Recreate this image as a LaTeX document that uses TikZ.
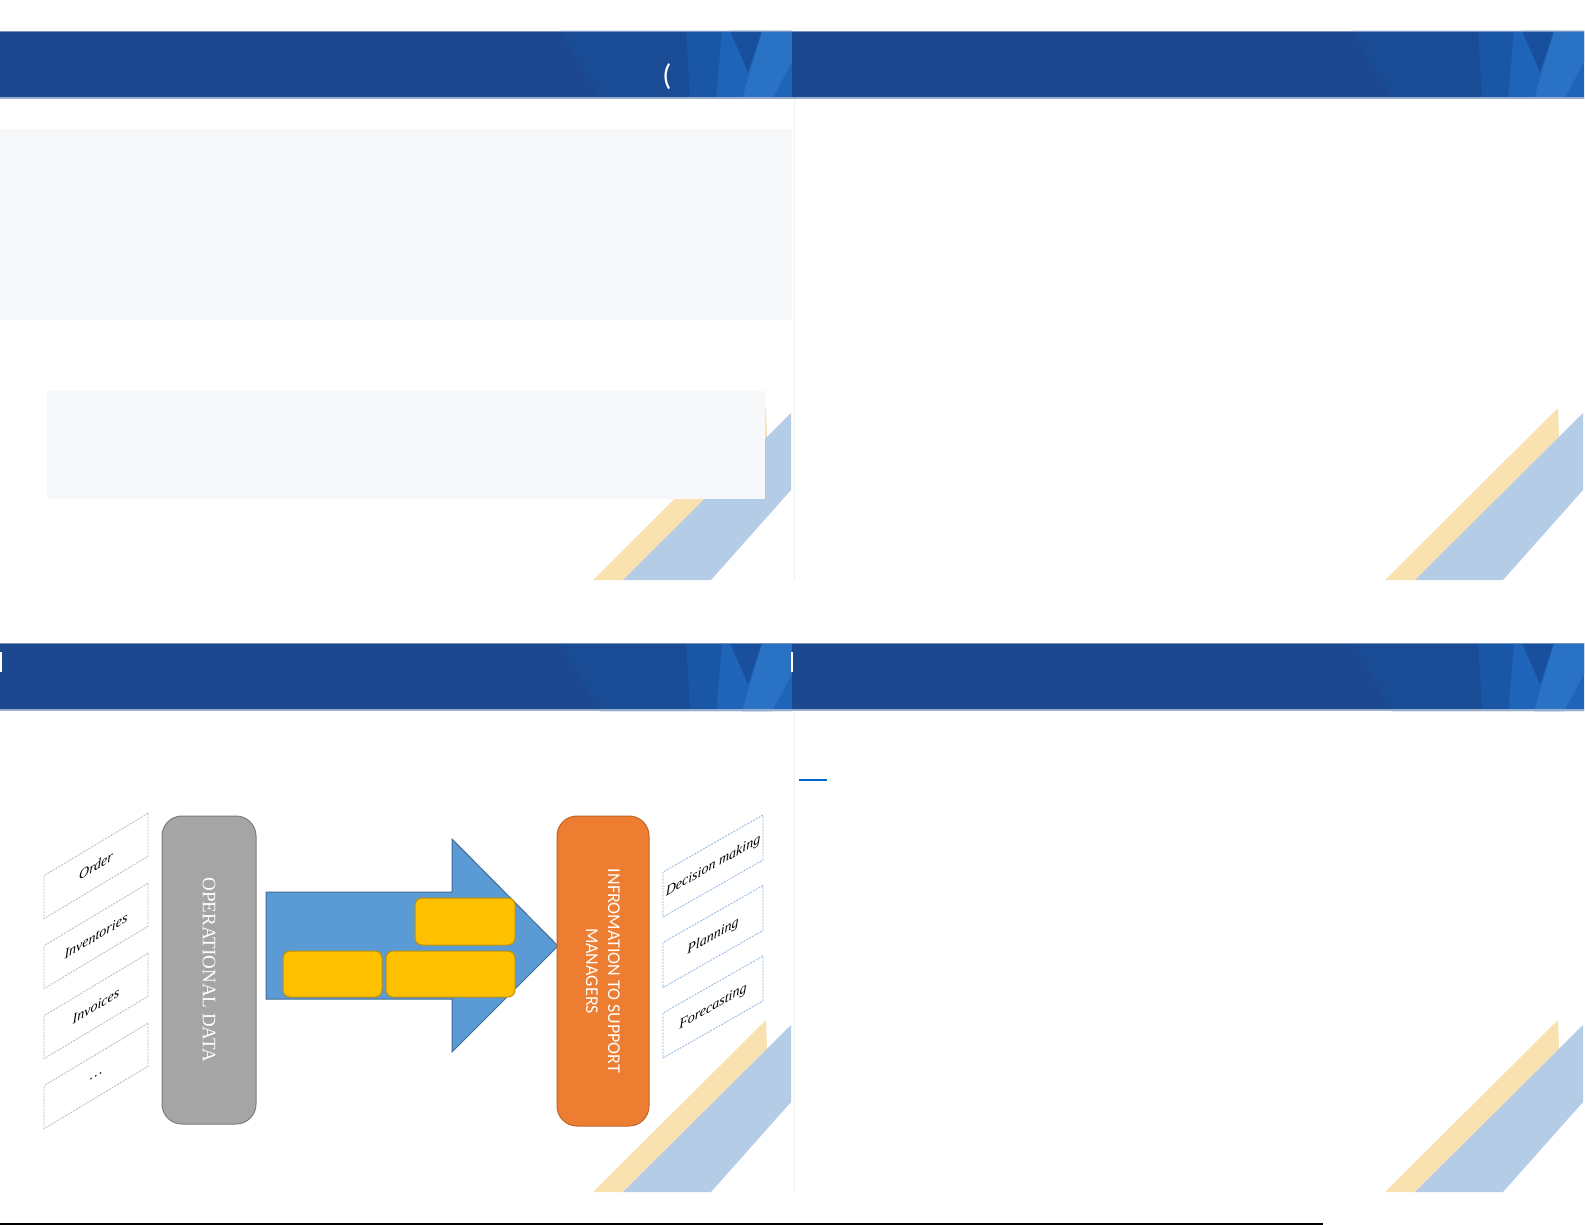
\documentclass[tikz,border=0pt]{standalone}
\usepackage{fontspec}
\setmainfont{Liberation Serif}
\newfontfamily\calibri{Carlito}
\usetikzlibrary{positioning}
\definecolor{hdrblue}{RGB}{28, 72, 143}
\definecolor{hdrdark}{RGB}{25, 76, 148}
\definecolor{decoA}{RGB}{26, 86, 166}
\definecolor{decoB}{RGB}{30, 100, 184}
\definecolor{decoC}{RGB}{24, 80, 158}
\definecolor{decoD}{RGB}{42, 114, 195}
\definecolor{panelgray}{RGB}{247, 248, 250}
\definecolor{stripeyel}{RGB}{250, 226, 176}
\definecolor{stripeblu}{RGB}{180, 204, 230}
\definecolor{opgray}{RGB}{165, 165, 165}
\definecolor{infoorange}{RGB}{237, 125, 49}
\definecolor{arrowblue}{RGB}{91, 155, 213}
\definecolor{goldfill}{RGB}{255, 192, 0}
\definecolor{parblue}{RGB}{141, 180, 226}
\definecolor{linkblue}{RGB}{0, 102, 204}

% header band and corner stripes of one slide
\newcommand{\slidedeco}[2]{%
    \begin{scope}[shift={(#1,#2)}]
        \fill[stripeyel] (593,580) -- (766,408) -- (767,437) -- (623,580) -- cycle;
        \fill[stripeblu] (623,580) -- (791,413) -- (791,490) -- (711,580) -- cycle;
        \fill[hdrblue] (0,31) rectangle (792,99);
        \fill[hdrdark] (560,31) -- (686,31) -- (690,99) -- (600,99) -- cycle;
        \fill[decoA] (686,31) -- (722,31) -- (716,99) -- (690,99) -- cycle;
        \fill[decoB] (722,31) -- (792,31) -- (792,99) -- (716,99) -- cycle;
        \fill[decoC] (730,31) -- (762,31) -- (748,72) -- cycle;
        \fill[decoD] (762,31) -- (792,31) -- (792,62) -- (772,99) -- (742,99) -- cycle;
        \draw[hdrblue!60!white, line width=0.5pt] (0,31.5) -- (792,31.5);
        \draw[hdrblue!45!white, line width=0.8pt] (0,98) -- (792,98);
    \end{scope}}

\begin{document}
\begin{tikzpicture}[
        x=0.5pt, y=-0.5pt,
        panel/.style={fill=panelgray, draw=none},
        opbox/.style={
            rounded corners=10pt, fill=opgray, draw=opgray!75!black,
            line width=0.5pt, inner sep=0pt,
            minimum width=154pt, minimum height=47pt, rotate=-90,
            text=white, font=\fontsize{9.5}{11}\selectfont
        },
        infobox/.style={
            rounded corners=10pt, fill=infoorange, draw=infoorange!80!black,
            line width=0.5pt, inner sep=0pt, align=center,
            minimum width=155pt, minimum height=46pt, rotate=-90,
            text=white, font=\calibri\fontsize{9}{11}\selectfont
        },
        ybox/.style={
            rounded corners=3.5pt, fill=goldfill, draw=goldfill!75!black,
            line width=0.5pt, inner sep=0pt, minimum height=23pt
        },
        parbox/.style={
            fill=white, dash pattern=on 1pt off 0.6pt, line width=0.4pt,
            inner sep=0pt, font=\itshape\fontsize{7}{8}\selectfont
        },
        srcpar/.style={parbox, yslant=0.6, draw=gray!55,
            minimum width=52pt, minimum height=21.5pt},
        usepar/.style={parbox, yslant=0.57, draw=parblue,
            minimum width=50pt, minimum height=22.5pt},
        hdrtext/.style={text=white, inner sep=0pt}
    ]

    \useasboundingbox (0,0) rectangle (1585,1225);
    \fill[white] (0,0) rectangle (1585,1225);

    % four slides
    \slidedeco{0}{0}
    \slidedeco{792}{0}
    \slidedeco{0}{612}
    \slidedeco{792}{612}

    \draw[gray!12, line width=0.5pt] (794.5,99) -- (794.5,580);
    \draw[gray!12, line width=0.5pt] (794.5,711) -- (794.5,1192);

    % slide 1
    \fill[panel] (0,129) rectangle (792,320);
    \fill[panel] (47,391) rectangle (765,499);
    \node[hdrtext, font=\calibri\fontsize{15}{18}\selectfont] (paren) at (667,77) {(};

    % slide 3 and 4 header marks
    \fill[white] (0,652) rectangle (2,672);
    \fill[white] (791,652) rectangle (793,672);
    \draw[linkblue, line width=1pt] (799,780) -- (827,780);

    % operational data
    \node[srcpar] (order) at (96,866) {Order};
    \node[srcpar] (invent) at (96,936) {Inventories};
    \node[srcpar] (invoic) at (96,1006) {Invoices};
    \node[srcpar] (more) at (96,1076) {\dots};

    \node[opbox] (opdata) at (209,970) {OPERATIONAL DATA};

    % big arrow with the gold blocks
    \draw[fill=arrowblue, draw=arrowblue!70!black, line width=0.5pt]
        (266,892) -- (452,892) -- (452,839) -- (558,946)
        -- (452,1052) -- (452,999) -- (266,999) -- cycle;

    \node[ybox, minimum width=49.5pt] (gold1) at (332.5,974) {};
    \node[ybox, minimum width=64.5pt, right=1.5pt of gold1] (gold2) {};
    \node[ybox, minimum width=50pt, minimum height=23.5pt,
          above=2.5pt of gold2.north east, anchor=south east] (gold3) {};

    \node[infobox] (info) at (603,971)
        {INFROMATION TO SUPPORT\\MANAGERS};

    % what managers use it for
    \node[usepar] (decide) at (713,866) {Decision making};
    \node[usepar] (plan) at (713,936.5) {Planning};
    \node[usepar] (fcast) at (713,1007) {Forecasting};

    \draw[black, line width=1pt] (0,1223.5) -- (1323,1223.5);

\end{tikzpicture}
\end{document}
